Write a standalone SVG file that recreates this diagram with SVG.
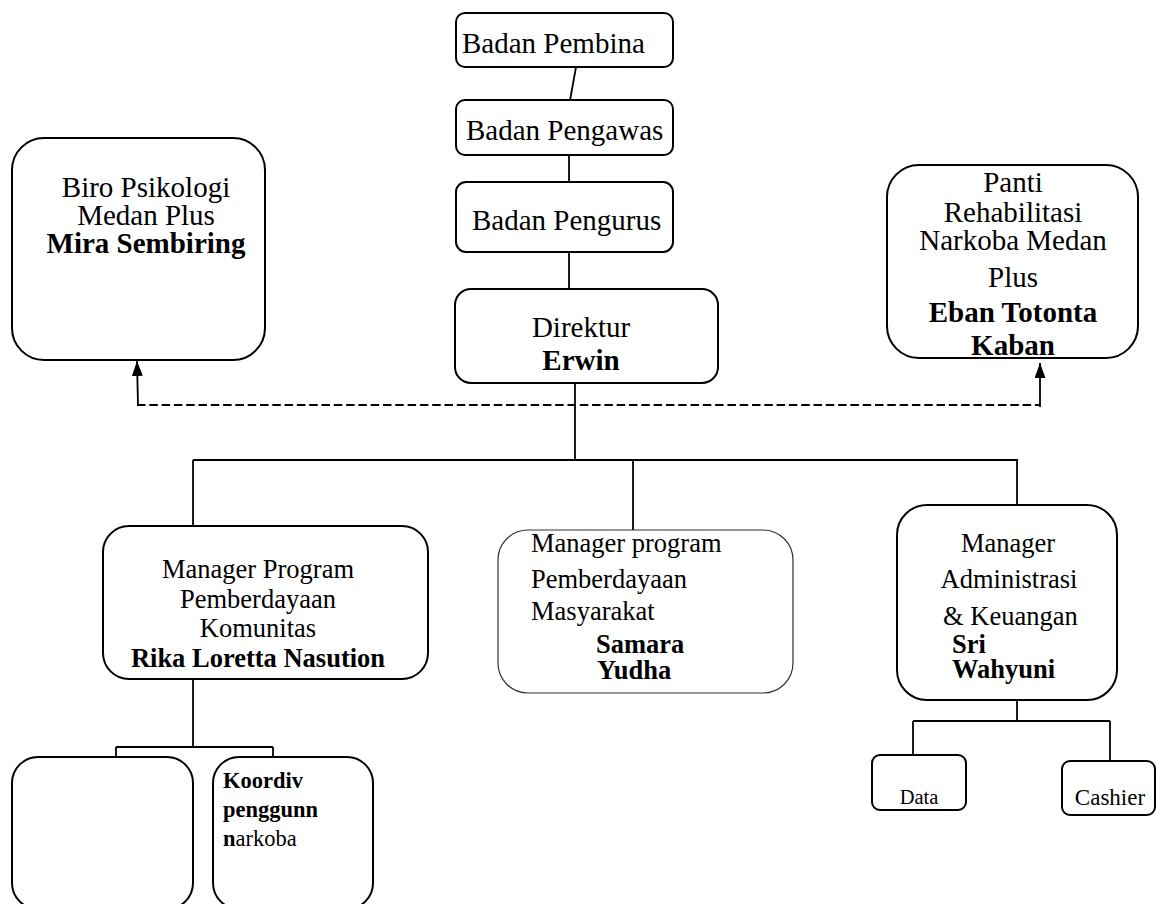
<svg xmlns="http://www.w3.org/2000/svg" width="1156" height="904" viewBox="0 0 1156 904">
<defs>
<style>
.box{fill:#fff;stroke:#000;stroke-width:2}
.thin{fill:#fff;stroke:#333;stroke-width:1.2}
.ln{stroke:#000;stroke-width:1.8;fill:none}
.dash{stroke:#000;stroke-width:2.2;stroke-dasharray:8.5,3.8;fill:none}
text{font-family:"Liberation Serif","Times New Roman",serif;fill:#000}
.t29{font-size:29px}
.t26{font-size:26.5px}
.b{font-weight:bold}
.c{text-anchor:middle}
</style>
<marker id="arr" markerUnits="userSpaceOnUse" markerWidth="15" markerHeight="11" refX="15" refY="5.5" orient="auto" viewBox="0 0 15 11">
<path d="M0,0 L15,5.5 L0,11 Z" fill="#000"/>
</marker>
</defs>
<rect width="1156" height="904" fill="#fff"/>

<g id="connectors">
<line class="ln" x1="576" y1="67" x2="569" y2="106"/>
<line class="ln" x1="569" y1="155" x2="569" y2="208"/>
<line class="ln" x1="569" y1="252" x2="569" y2="290"/>
<line class="ln" x1="575" y1="383" x2="575" y2="460"/>
<line class="dash" x1="137" y1="405" x2="1040" y2="405"/>
<path class="ln" d="M138,405 L137,361" marker-end="url(#arr)"/>
<path class="ln" d="M1040,407 L1040,363" marker-end="url(#arr)"/>
<line class="ln" x1="193" y1="460" x2="1018" y2="460"/>
<line class="ln" x1="193" y1="460" x2="193" y2="527"/>
<line class="ln" x1="633" y1="460" x2="633" y2="531"/>
<line class="ln" x1="1017" y1="460" x2="1017" y2="525"/>
<line class="ln" x1="193" y1="679" x2="193" y2="747"/>
<line class="ln" x1="116" y1="747" x2="273" y2="747"/>
<line class="ln" x1="116" y1="747" x2="116" y2="757"/>
<line class="ln" x1="273" y1="747" x2="273" y2="757"/>
<line class="ln" x1="1017" y1="683" x2="1017" y2="721"/>
<line class="ln" x1="913" y1="721" x2="1110" y2="721"/>
<line class="ln" x1="913" y1="721" x2="913" y2="755"/>
<line class="ln" x1="1110" y1="721" x2="1110" y2="761"/>
</g>

<g id="pembina">
<rect class="box" x="456" y="13" width="217" height="54" rx="9"/>
<text class="t29" x="462" y="53">Badan Pembina</text>
</g>
<g id="pengawas">
<rect class="box" x="456" y="100" width="217" height="55" rx="9"/>
<text class="t29" x="466" y="140">Badan Pengawas</text>
</g>
<g id="pengurus">
<rect class="box" x="456" y="182" width="217" height="70" rx="10"/>
<text class="t29" x="472" y="230">Badan Pengurus</text>
</g>
<g id="direktur">
<rect class="box" x="455" y="289" width="263" height="94" rx="16"/>
<text class="t29 c" x="581" y="337">Direktur</text>
<text class="t29 c b" x="581" y="370">Erwin</text>
</g>
<g id="biro">
<rect class="box" x="12" y="138" width="253" height="222" rx="32"/>
<text class="t29 c" x="146" y="197">Biro Psikologi</text>
<text class="t29 c" x="146" y="225">Medan Plus</text>
<text class="t29 c b" x="146" y="253">Mira Sembiring</text>
</g>
<g id="panti">
<rect class="box" x="887" y="165" width="251" height="193" rx="32"/>
<text class="t29 c" x="1013" y="192">Panti</text>
<text class="t29 c" x="1013" y="222">Rehabilitasi</text>
<text class="t29 c" x="1013" y="250">Narkoba Medan</text>
<text class="t29 c" x="1013" y="287">Plus</text>
<text class="t29 c b" x="1013" y="322">Eban Totonta</text>
<text class="t29 c b" x="1013" y="355">Kaban</text>
</g>
<g id="mgr-komunitas">
<rect class="box" x="103" y="526" width="325" height="153" rx="26"/>
<text class="t26 c" x="258" y="578">Manager Program</text>
<text class="t26 c" x="258" y="608">Pemberdayaan</text>
<text class="t26 c" x="258" y="637">Komunitas</text>
<text class="t26 c b" x="258" y="667">Rika Loretta Nasution</text>
</g>
<g id="mgr-masyarakat">
<rect class="thin" x="498" y="530" width="295" height="163" rx="30"/>
<text class="t26" x="531" y="552">Manager program</text>
<text class="t26" x="531" y="588">Pemberdayaan</text>
<text class="t26" x="531" y="620">Masyarakat</text>
<text class="t26 b" x="596" y="653">Samara</text>
<text class="t26 b" x="597" y="679">Yudha</text>
</g>
<g id="mgr-admin">
<rect class="box" x="897" y="505" width="220" height="195" rx="30"/>
<text class="t26 c" x="1008" y="552">Manager</text>
<text class="t26 c" x="1009" y="588">Administrasi</text>
<text class="t26" x="943" y="625">&amp; Keuangan</text>
<text class="t26 b" x="952" y="653">Sri</text>
<text class="t26 b" x="952" y="678">Wahyuni</text>
</g>
<g id="blank-box">
<rect class="box" x="12" y="757" width="181" height="152" rx="26"/>
</g>
<g id="koordiv">
<rect class="box" x="213" y="757" width="160" height="152" rx="26"/>
<text class="b" x="223" y="788" font-size="22.5">Koordiv</text>
<text class="b" x="223" y="817" font-size="22.5">penggunn</text>
<text x="223" y="846" font-size="22.5"><tspan font-weight="bold">n</tspan>arkoba</text>
</g>
<g id="data">
<rect class="box" x="872" y="755" width="94" height="55" rx="8"/>
<text class="c" x="919" y="804" font-size="20.5">Data</text>
</g>
<g id="cashier">
<rect class="box" x="1062" y="761" width="93" height="54" rx="8"/>
<text class="c" x="1110" y="805" font-size="23">Cashier</text>
</g>
</svg>
